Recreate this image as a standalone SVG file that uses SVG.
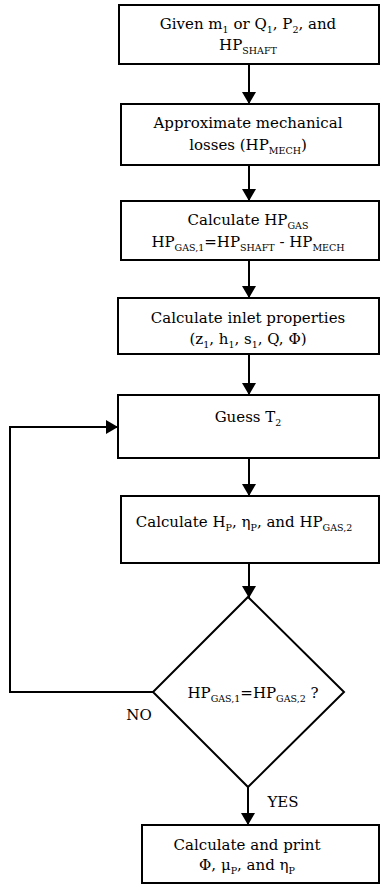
<svg xmlns="http://www.w3.org/2000/svg" width="381" height="894" viewBox="0 0 381 894">
<style>
.box{fill:#fff;stroke:#000;stroke-width:2}
text{font-family:'DejaVu Serif',serif;font-size:15px;fill:#000;text-anchor:middle}
.s{font-size:9.5px}
.c{fill:none;stroke:#000;stroke-width:2}
</style>
<defs>
<marker id="ah" viewBox="0 0 12 14" refX="12" refY="7" markerWidth="12" markerHeight="14" markerUnits="userSpaceOnUse" orient="auto">
<path d="M0,0 L12,7 L0,14 Z" fill="#000"/>
</marker>
</defs>
<g id="connectors">
<line class="c" x1="249" y1="64" x2="249" y2="104" marker-end="url(#ah)"/>
<line class="c" x1="249" y1="165" x2="249" y2="201" marker-end="url(#ah)"/>
<line class="c" x1="249" y1="260" x2="249" y2="298" marker-end="url(#ah)"/>
<line class="c" x1="249" y1="354" x2="249" y2="395" marker-end="url(#ah)"/>
<line class="c" x1="249" y1="458" x2="249" y2="496" marker-end="url(#ah)"/>
<line class="c" x1="249" y1="563" x2="249" y2="598" marker-end="url(#ah)"/>
<polyline class="c" points="153,692 10,692 10,427 118,427" marker-end="url(#ah)"/>
<line class="c" x1="248" y1="787" x2="248" y2="825" marker-end="url(#ah)"/>
<text x="139" y="720">NO</text>
<text x="283" y="807">YES</text>
</g>
<g id="n1">
<rect class="box" x="119" y="5" width="260" height="59"/>
<text x="248" y="29">Given m<tspan class="s" dy="4">1</tspan><tspan dy="-4"> or Q</tspan><tspan class="s" dy="4">1</tspan><tspan dy="-4">, P</tspan><tspan class="s" dy="4">2</tspan><tspan dy="-4">, and</tspan></text>
<text x="248" y="50">HP<tspan class="s" dy="4">SHAFT</tspan></text>
</g>
<g id="n2">
<rect class="box" x="121" y="104" width="258" height="61"/>
<text x="248" y="128">Approximate mechanical</text>
<text x="248" y="150">losses (HP<tspan class="s" dy="4">MECH</tspan><tspan dy="-4">)</tspan></text>
</g>
<g id="n3">
<rect class="box" x="121" y="201" width="258" height="59"/>
<text x="248" y="225">Calculate HP<tspan class="s" dy="4">GAS</tspan></text>
<text x="248" y="247">HP<tspan class="s" dy="4">GAS,1</tspan><tspan dy="-4">=HP</tspan><tspan class="s" dy="4">SHAFT</tspan><tspan dy="-4"> - HP</tspan><tspan class="s" dy="4">MECH</tspan></text>
</g>
<g id="n4">
<rect class="box" x="118" y="298" width="261" height="56"/>
<text x="248" y="323">Calculate inlet properties</text>
<text x="248" y="344">(z<tspan class="s" dy="4">1</tspan><tspan dy="-4">, h</tspan><tspan class="s" dy="4">1</tspan><tspan dy="-4">, s</tspan><tspan class="s" dy="4">1</tspan><tspan dy="-4">, Q, Φ)</tspan></text>
</g>
<g id="n5">
<rect class="box" x="118" y="395" width="261" height="63"/>
<text x="248" y="422">Guess T<tspan class="s" dy="4">2</tspan></text>
</g>
<g id="n6">
<rect class="box" x="121" y="496" width="258" height="67"/>
<text x="244" y="527">Calculate H<tspan class="s" dy="4">P</tspan><tspan dy="-4">, η</tspan><tspan class="s" dy="4">P</tspan><tspan dy="-4">, and HP</tspan><tspan class="s" dy="4">GAS,2</tspan></text>
</g>
<g id="n7">
<polygon class="box" points="248,597 344,692 248,787 153,692"/>
<text x="253" y="698">HP<tspan class="s" dy="4">GAS,1</tspan><tspan dy="-4">=HP</tspan><tspan class="s" dy="4">GAS,2</tspan><tspan dy="-4"> ?</tspan></text>
</g>
<g id="n8">
<rect class="box" x="142" y="825" width="237" height="58"/>
<text x="247" y="850">Calculate and  print</text>
<text x="247" y="870">Φ, μ<tspan class="s" dy="4">P</tspan><tspan dy="-4">, and η</tspan><tspan class="s" dy="4">P</tspan></text>
</g>
</svg>
